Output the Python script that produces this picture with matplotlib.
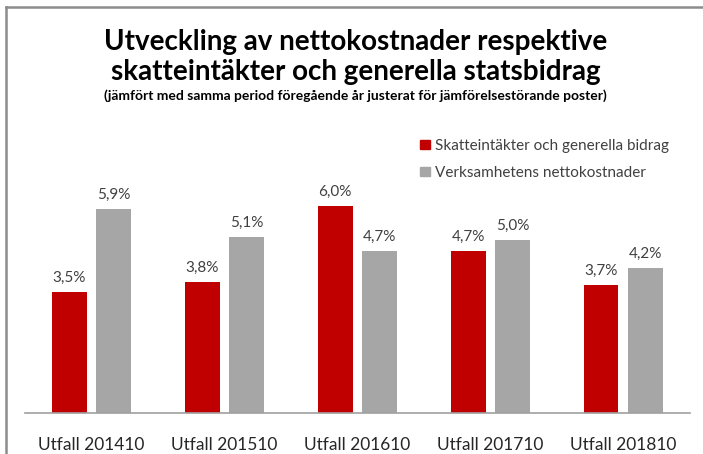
import numpy as np
import matplotlib.pyplot as plt
import matplotlib.patches as mpatches
from matplotlib.lines import Line2D

categories = ['Utfall 201410', 'Utfall 201510', 'Utfall 201610', 'Utfall 201710', 'Utfall 201810']
skatt = [3.5, 3.8, 6.0, 4.7, 3.7]
netto = [5.9, 5.1, 4.7, 5.0, 4.2]
series_names = ['Skatteintäkter och generella bidrag', 'Verksamhetens nettokostnader']

red = '#C00000'
grey = '#A6A6A6'
txt = '#404040'

plt.rcParams['font.family'] = ['Lato', 'DejaVu Sans']

fig = plt.figure(figsize=(7.03, 4.54), dpi=100)
ax = fig.add_axes([0.0356, 0.0903, 0.9454, 0.533])

x = np.arange(len(categories))
w = 0.263
off = 0.167
b1 = ax.bar(x - off, skatt, w, color=red)
b2 = ax.bar(x + off, netto, w, color=grey)

for bars, vals in ((b1, skatt), (b2, netto)):
    for rect, v in zip(bars, vals):
        ax.text(rect.get_x() + rect.get_width() / 2, v + 0.2, f"{v:.1f}%".replace('.', ','),
                ha='center', va='bottom', fontsize=11, color=txt)

ax.set_xlim(-0.5, len(categories) - 0.5)
ax.set_ylim(0, 7)
ax.set_yticks([])
ax.set_xticks(x)
ax.set_xticklabels(categories, fontsize=12.5, color='#262626')
ax.tick_params(axis='x', length=0, pad=17)
for s in ['top', 'right', 'left']:
    ax.spines[s].set_visible(False)
ax.spines['bottom'].set_color('#A0A0A0')
ax.spines['bottom'].set_linewidth(1.2)

fig.text(0.506, 0.890, 'Utveckling av nettokostnader respektive', ha='center', va='baseline',
         fontsize=20, fontweight='bold', color='black')
fig.text(0.506, 0.824, 'skatteintäkter och generella statsbidrag', ha='center', va='baseline',
         fontsize=20, fontweight='bold', color='black')
fig.text(0.506, 0.780, '(jämfört med samma period föregående år justerat för jämförelsestörande poster)',
         ha='center', va='baseline', fontsize=10, fontweight='bold', color='black')

handles = [mpatches.Patch(color=red, label=series_names[0]),
           mpatches.Patch(color=grey, label=series_names[1])]
fig.legend(handles=handles, loc='upper left', bbox_to_anchor=(0.598, 0.694), frameon=False,
           fontsize=11, labelcolor=txt, handlelength=0.6, handleheight=0.6,
           handletextpad=0.35, labelspacing=0.85, borderaxespad=0, borderpad=0)

# grey frame left and top
fig.add_artist(Line2D([0.0092, 0.0092], [0.0, 0.9835], color='#8C8C8C', lw=1.8))
fig.add_artist(Line2D([0.0092, 1.0], [0.9835, 0.9835], color='#8C8C8C', lw=1.8))

fig.savefig('out.png', dpi=100)
